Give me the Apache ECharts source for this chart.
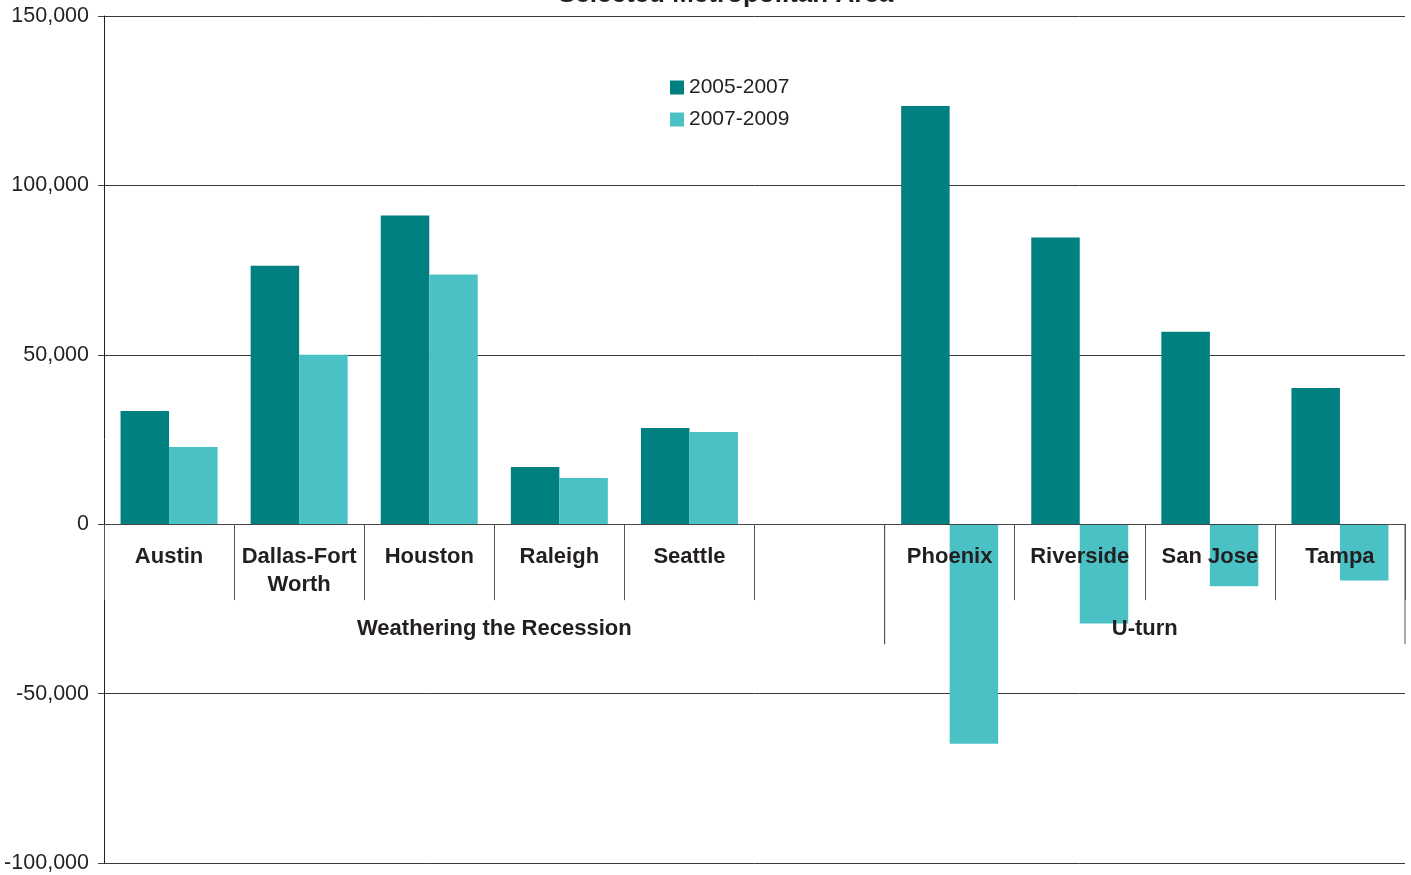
<!DOCTYPE html>
<html>
<head>
<meta charset="utf-8">
<script src="https://cdn.jsdelivr.net/npm/echarts@6/dist/echarts.min.js"></script>
<style>
  html, body { margin: 0; padding: 0; background: #fff; }
  #chart { width: 1411px; height: 875px; }
</style>
</head>
<body>
<div id="chart"></div>
<script>
// metro areas, one empty slot separates the two groups
var cities = ["Austin", "Dallas-Fort\nWorth", "Houston", "Raleigh", "Seattle", "", "Phoenix", "Riverside", "San Jose", "Tampa"];
var change0507 = [33400, 76300, 91100, 16900, 28400, null, 123400, 84600, 56800, 40200];
var change0709 = [22800, 50000, 73700, 13600, 27200, null, -64800, -29300, -18300, -16600];
// groups: first and last city index
var groups = [
  { name: "Weathering the Recession", from: 0, to: 5 },
  { name: "U-turn", from: 6, to: 9 }
];
var yTicks = [-100000, -50000, 0, 50000, 100000, 150000];

var textColor = "#231f20";
var font = "Liberation Sans, Arial, sans-serif";

var myChart = echarts.init(document.getElementById("chart"));
var option = {
  animation: false,
  title: {
    text: "Selected Metropolitan Area",
    left: 553,
    top: -23,
    textStyle: { fontFamily: font, fontSize: 26, fontWeight: "bold", color: textColor }
  },
  legend: {
    orient: "vertical",
    left: 665,
    top: 72,
    itemWidth: 14,
    itemHeight: 14,
    itemGap: 11,
    icon: "rect",
    textStyle: { fontFamily: font, fontSize: 21, color: textColor, padding: [0, 0, 0, 0] },
    data: ["2005-2007", "2007-2009"]
  },
  grid: { left: 104, right: 6, top: 16, bottom: 12, containLabel: false, outerBoundsMode: "none" },
  xAxis: {
    type: "category",
    data: cities,
    z: 10,
    axisLine: { onZero: true, lineStyle: { color: "#444", width: 1 } },
    axisTick: { show: true, interval: 0, length: 76, lineStyle: { color: "#555" } },
    axisLabel: { show: false },
    splitLine: { show: false }
  },
  yAxis: {
    type: "value",
    min: yTicks[0],
    max: yTicks[yTicks.length - 1],
    interval: 50000,
    axisLine: { show: true, lineStyle: { color: textColor, width: 1 } },
    axisTick: { show: true, length: 6, lineStyle: { color: "#444" } },
    axisLabel: {
      margin: 15,
      fontFamily: font,
      fontSize: 21.5,
      color: textColor,
      formatter: function (v) { return v.toLocaleString("en-US"); }
    },
    splitLine: { show: true, lineStyle: { color: "#3a3a3a", width: 1 } }
  },
  series: [
    {
      name: "2005-2007",
      type: "bar",
      data: change0507,
      barWidth: 48.5,
      barGap: "0%",
      itemStyle: { color: "#008080" }
    },
    {
      name: "2007-2009",
      type: "bar",
      data: change0709,
      barWidth: 48.5,
      barGap: "0%",
      itemStyle: { color: "#4ac2c5" }
    },
    {
      // category labels sit just under the zero line, over the bars
      type: "custom",
      silent: true,
      z: 10,
      data: cities.map(function (c, i) { return [i, 0]; }),
      renderItem: function (params, api) {
        var p = api.coord([api.value(0), 0]);
        return {
          type: "text",
          style: {
            text: cities[params.dataIndex],
            x: p[0],
            y: p[1] + 19,
            align: "center",
            verticalAlign: "top",
            lineHeight: 28,
            font: "bold 22px " + font,
            fill: textColor
          }
        };
      }
    },
    {
      // group labels and long separators under the category labels
      type: "custom",
      silent: true,
      z: 10,
      data: groups.map(function (g) { return [g.from, g.to]; }),
      renderItem: function (params, api) {
        var g = groups[params.dataIndex];
        var band = api.size([1, 0])[0];
        var p0 = api.coord([g.from, 0]);
        var p1 = api.coord([g.to, 0]);
        var x0 = p0[0] - band / 2;
        var x1 = p1[0] + band / 2;
        var y0 = p0[1];
        var children = [
          {
            type: "text",
            style: {
              text: g.name,
              x: (x0 + x1) / 2,
              y: y0 + 105,
              align: "center",
              verticalAlign: "middle",
              font: "bold 22px " + font,
              fill: textColor
            }
          },
          {
            type: "line",
            shape: { x1: x1, y1: y0, x2: x1, y2: y0 + 120 },
            style: { stroke: "#555", lineWidth: 1 }
          }
        ];
        if (g.from > 0) {
          children.push({
            type: "line",
            shape: { x1: x0, y1: y0, x2: x0, y2: y0 + 120 },
            style: { stroke: "#555", lineWidth: 1 }
          });
        }
        return { type: "group", children: children };
      }
    }
  ]
};
myChart.setOption(option);
</script>
</body>
</html>
